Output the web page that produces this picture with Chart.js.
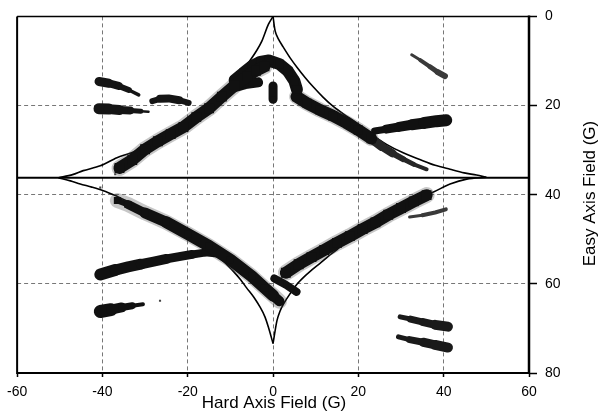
<!DOCTYPE html>
<html>
<head>
<meta charset="utf-8">
<title>Hard / Easy Axis Field</title>
<script src="https://cdn.jsdelivr.net/npm/chart.js@4.4.0/dist/chart.umd.min.js"></script>
<style>
  html, body { margin: 0; padding: 0; background: #fff; }
  #chart { display: block; }
</style>
</head>
<body>
<canvas id="chart" width="602" height="416"></canvas>
<script>
// axes
var xTicks = [-60, -40, -20, 0, 20, 40, 60];
var yTicks = [0, 20, 40, 60, 80];
var xTitle = "Hard Axis Field (G)";
var yTitle = "Easy Axis Field (G)";

// switching line
var midLine = [[-60, 36.2], [60, 36.2]];

// astroid
var astroidUL = [[-50.3, 36.2], [-47, 35.5], [-44.5, 34.6], [-40.5, 33.5], [-36.6, 31.7], [-33.5, 30.7], [-30.4, 29.5], [-27.5, 28.2], [-25, 27], [-22.5, 25.7], [-20, 24.3], [-17.5, 22.6], [-15, 20.5], [-12.5, 18.1], [-10.1, 15.4], [-7.5, 12.6], [-5.4, 9.9], [-3.8, 7.6], [-2.6, 5.5], [-1.1, 1.8], [0, 0]];
var astroidUR = [[0, 0], [0.5, 3.3], [1.2, 5], [2.4, 6.9], [4, 9.3], [5.6, 11.4], [7.5, 13.7], [9.4, 15.8], [11.7, 18.1], [14.1, 20.2], [16.8, 22.1], [19.6, 23.9], [23, 26.4], [26.6, 28.7], [30.5, 30.6], [34.4, 32.1], [38, 33.4], [41.5, 34.3], [44.8, 35.1], [47.7, 35.6], [50, 36.1]];
var astroidLL = [[-50.3, 36.2], [-47.5, 36.9], [-45.2, 37.6], [-42.5, 38.3], [-39.8, 39.1], [-37, 40.2], [-34.3, 41.4], [-30, 43.3], [-25, 45.6], [-22.3, 46.8], [-19.8, 48.2], [-17.5, 49.7], [-15.5, 51.3], [-12.4, 54.2], [-9.3, 57.2], [-7.6, 59.1], [-6.2, 60.9], [-4.5, 63], [-3, 65.3], [-1.9, 67.4], [-1.1, 69.7], [0, 73.4]];
var astroidLR = [[0, 73.4], [0.9, 68.3], [1.6, 66.2], [2.4, 64.6], [4, 62.2], [5.6, 60.1], [7.2, 58.5], [8.7, 57.2], [11, 55.4], [13, 53.8], [15, 52.3], [17.5, 50.1], [20, 48.2], [22.5, 46.5], [25, 45], [27.5, 43.7], [30, 42.5], [34, 40.8], [37.6, 39.4], [41.5, 37.6], [45.4, 36.5], [50, 36.1]];

// measured switching fields (bands of points)
var upLeftMain = [[-36, 34.0], [-33, 32.2], [-30, 29.8], [-27, 28.0], [-24, 26.4], [-21, 24.8], [-18, 22.6], [-15, 20.6], [-12, 18.0], [-9, 15.5], [-6, 13.4], [-4, 12.2], [-2, 11.2]];
var peakArch = [[-9, 14.3], [-7, 12.7], [-5, 11.2], [-3, 10.2], [-1, 9.9], [1.5, 10.7], [3.5, 12.3], [5, 14.5], [5.6, 16.4]];
var peakFill = [[-9.5, 16.0], [-6.5, 15.2], [-3.5, 14.8]];
var peakDrop = [[0, 15.6], [0, 18.6]];
var upRightMain = [[5.5, 18.0], [8, 19.5], [11, 21.0], [14, 22.3], [17, 23.8], [20, 25.5], [23, 27.4]];
var upRightTail = [[23, 27.4], [25.5, 29.2], [28, 30.7], [30.5, 32.0], [33, 33.2], [36, 34.3]];
var upRightFlat = [[23.8, 25.7], [26.5, 25.3], [29.5, 24.8], [32.5, 24.3], [35.5, 23.9], [38.3, 23.5], [40.6, 23.3]];
var upRightHigh = [[32.5, 8.6], [34.5, 9.8], [36.8, 11.3], [38.6, 12.5], [40.3, 13.4]];
var upLeft1 = [[-40.8, 14.6], [-38.5, 15.0], [-36.2, 15.6], [-33.8, 16.5], [-31.5, 17.6]];
var upLeft2 = [[-40.8, 20.7], [-38.5, 20.8], [-36, 21.0], [-33.5, 21.1], [-31, 21.3], [-29.2, 21.4]];
var upLeft3 = [[-28.3, 19.0], [-26.5, 18.5], [-24.5, 18.4], [-22, 18.8], [-19.8, 19.4]];
var lowLeftMain = [[-36.5, 41.3], [-34, 42.2], [-30, 44.1], [-25, 46.2], [-20, 48.8], [-15, 51.5], [-10, 54.6], [-5, 58.3], [-2, 60.9], [0, 62.6], [1.5, 63.9]];
var lowMid = [[0.3, 58.8], [3, 60.2], [5.5, 61.8]];
var lowRightMain = [[3, 57.5], [6, 55.6], [9, 54.0], [12, 52.4], [15, 50.8], [18, 49.3], [21, 47.7], [24, 46.2], [27, 44.5], [30, 43.0], [33, 41.5], [36, 40.1]];
var lowRightHigh = [[32, 45.0], [35, 44.6], [38, 44.0], [40.5, 43.3]];
var lowLeftFlat = [[-40.5, 57.9], [-37, 56.9], [-34, 56.2], [-31, 55.6], [-28, 55.0], [-25, 54.4], [-22, 53.9], [-19, 53.4], [-16, 53.0], [-13, 53.3]];
var lowLeftLow = [[-40.5, 66.2], [-38, 65.8], [-35.5, 65.3], [-33, 64.9], [-30.5, 64.6]];
var lowRight1 = [[29.8, 67.4], [32.2, 67.9], [35.2, 68.6], [38, 69.2], [41, 69.6]];
var lowRight2 = [[29.4, 71.9], [32, 72.5], [35.2, 73.1], [38, 73.7], [41, 74.3]];
var specks = [[-37, 35.4], [-40.5, 38.4], [-26.5, 63.8]];

function pts(a) {
	return a.map(function(p){ return {x: p[0], y: p[1]}; });
}

// a band of markers: thick line plus square markers for the stepped look
function band(a, width, color, radius) {
	return {
		data: pts(a), showLine: true,
		borderColor: color, backgroundColor: color, borderWidth: width,
		borderJoinStyle: 'round', borderCapStyle: 'round',
		pointStyle: 'rect', pointRadius: radius, pointBorderWidth: 0, pointHoverRadius: radius
	};
}

// a streak whose thickness changes from one end to the other
function streak(a, widths, color, radius) {
	var d = band(a, widths[0], color, radius || 0);
	d.segment = {borderWidth: function(ctx){ return widths[ctx.p0DataIndex]; }};
	return d;
}

// grey fringe under a band, like the scanned print
function halo(a, width) {
	return band(a, width, 'rgba(70,70,70,0.3)', 0);
}

function curve(a) {
	return {
		data: pts(a), showLine: true, borderColor: '#000', borderWidth: 1.6,
		tension: 0.3, pointRadius: 0, pointHoverRadius: 0
	};
}

var font = {family: '"Liberation Sans", Arial, sans-serif', size: 14};

// frame round the plot area and the two axis titles
var framePlugin = {
	id: 'frame',
	afterDatasetsDraw: function(chart) {
		var c = chart.ctx, a = chart.chartArea;
		c.save();
		c.strokeStyle = '#000';
		c.lineWidth = 1.5;
		c.beginPath(); c.moveTo(a.left, a.top); c.lineTo(a.right, a.top); c.stroke();
		c.lineWidth = 2;
		c.beginPath(); c.moveTo(a.left, a.top); c.lineTo(a.left, a.bottom); c.lineTo(a.right, a.bottom); c.stroke();
		c.lineWidth = 2.5;
		c.beginPath(); c.moveTo(a.right, a.top - 1); c.lineTo(a.right, a.bottom + 1); c.stroke();
		c.restore();
	},
	afterDraw: function(chart) {
		var c = chart.ctx;
		c.save();
		c.fillStyle = '#000';
		c.font = '17px "Liberation Sans", Arial, sans-serif';
		c.textAlign = 'center';
		c.textBaseline = 'alphabetic';
		c.fillText(xTitle, 274, 408);
		c.translate(595, 193.5);
		c.rotate(-Math.PI / 2);
		c.fillText(yTitle, 0, 0);
		c.restore();
	}
};

var datasets = [
	{data: pts(midLine), showLine: true, borderColor: '#000', borderWidth: 2, pointRadius: 0, pointHoverRadius: 0},
	band(upLeftMain, 12, '#111', 7),
	band(peakArch, 12, '#111', 6),
	band(peakFill, 10, '#111', 5),
	band(peakDrop, 9, '#111', 4),
	band(upRightMain, 12, '#111', 6.5),
	streak(upRightTail, [9, 8, 6, 5, 4], '#262626'),
	streak(upRightFlat, [7, 9, 10, 11, 12, 12], '#111'),
	streak(upRightHigh, [3, 4, 5, 6], '#3a3a3a'),
	streak(upLeft1, [9, 8, 6, 3.5], '#151515'),
	streak(upLeft2, [11, 10, 8, 5, 2.5], '#151515'),
	streak(upLeft3, [6, 8, 8, 6], '#151515'),
	streak(lowLeftMain, [6, 9, 11, 12, 12, 12, 12, 12, 12, 10], '#111', 5),
	band(lowMid, 8, '#111', 4),
	band(lowRightMain, 12, '#111', 7),
	streak(lowRightHigh, [3, 4, 4], '#3a3a3a'),
	streak(lowLeftFlat, [12, 11, 11, 10, 10, 9, 9, 8, 7], '#111'),
	streak(lowLeftLow, [13, 10, 7, 4], '#111'),
	streak(lowRight1, [5, 7, 8, 10], '#1a1a1a'),
	streak(lowRight2, [5, 7, 9, 10], '#1a1a1a'),
	band(specks, 0, '#444', 1.5),
	halo(upLeftMain, 16),
	halo(upRightMain, 15),
	halo(lowLeftMain, 15),
	halo(lowRightMain, 16),
	curve(astroidUL),
	curve(astroidUR),
	curve(astroidLL),
	curve(astroidLR)
];

var chart = new Chart(document.getElementById('chart'), {
	type: 'scatter',
	data: {datasets: datasets},
	options: {
		responsive: false,
		animation: false,
		events: [],
		layout: {padding: {left: 17, top: 12, right: 0, bottom: 0}},
		plugins: {legend: {display: false}, tooltip: {enabled: false}},
		scales: {
			x: {
				type: 'linear', min: -60, max: 60,
				afterBuildTicks: function(s){ s.ticks = xTicks.map(function(v){ return {value: v}; }); },
				afterFit: function(s){ s.height = 43; },
				ticks: {font: font, color: '#000', padding: 7, maxRotation: 0},
				grid: {color: '#777', lineWidth: 1, tickLength: 4, tickColor: '#000', tickWidth: 1.5},
				border: {display: false, dash: [4, 3]}
			},
			y: {
				type: 'linear', position: 'right', reverse: true, min: 0, max: 80,
				afterBuildTicks: function(s){ s.ticks = yTicks.map(function(v){ return {value: v}; }); },
				afterFit: function(s){ s.width = 73; },
				ticks: {font: font, color: '#000', padding: 8},
				grid: {color: '#777', lineWidth: 1, tickLength: 8, tickColor: '#000', tickWidth: 1.5},
				border: {display: false, dash: [4, 3]}
			}
		}
	},
	plugins: [framePlugin]
});
</script>
</body>
</html>
